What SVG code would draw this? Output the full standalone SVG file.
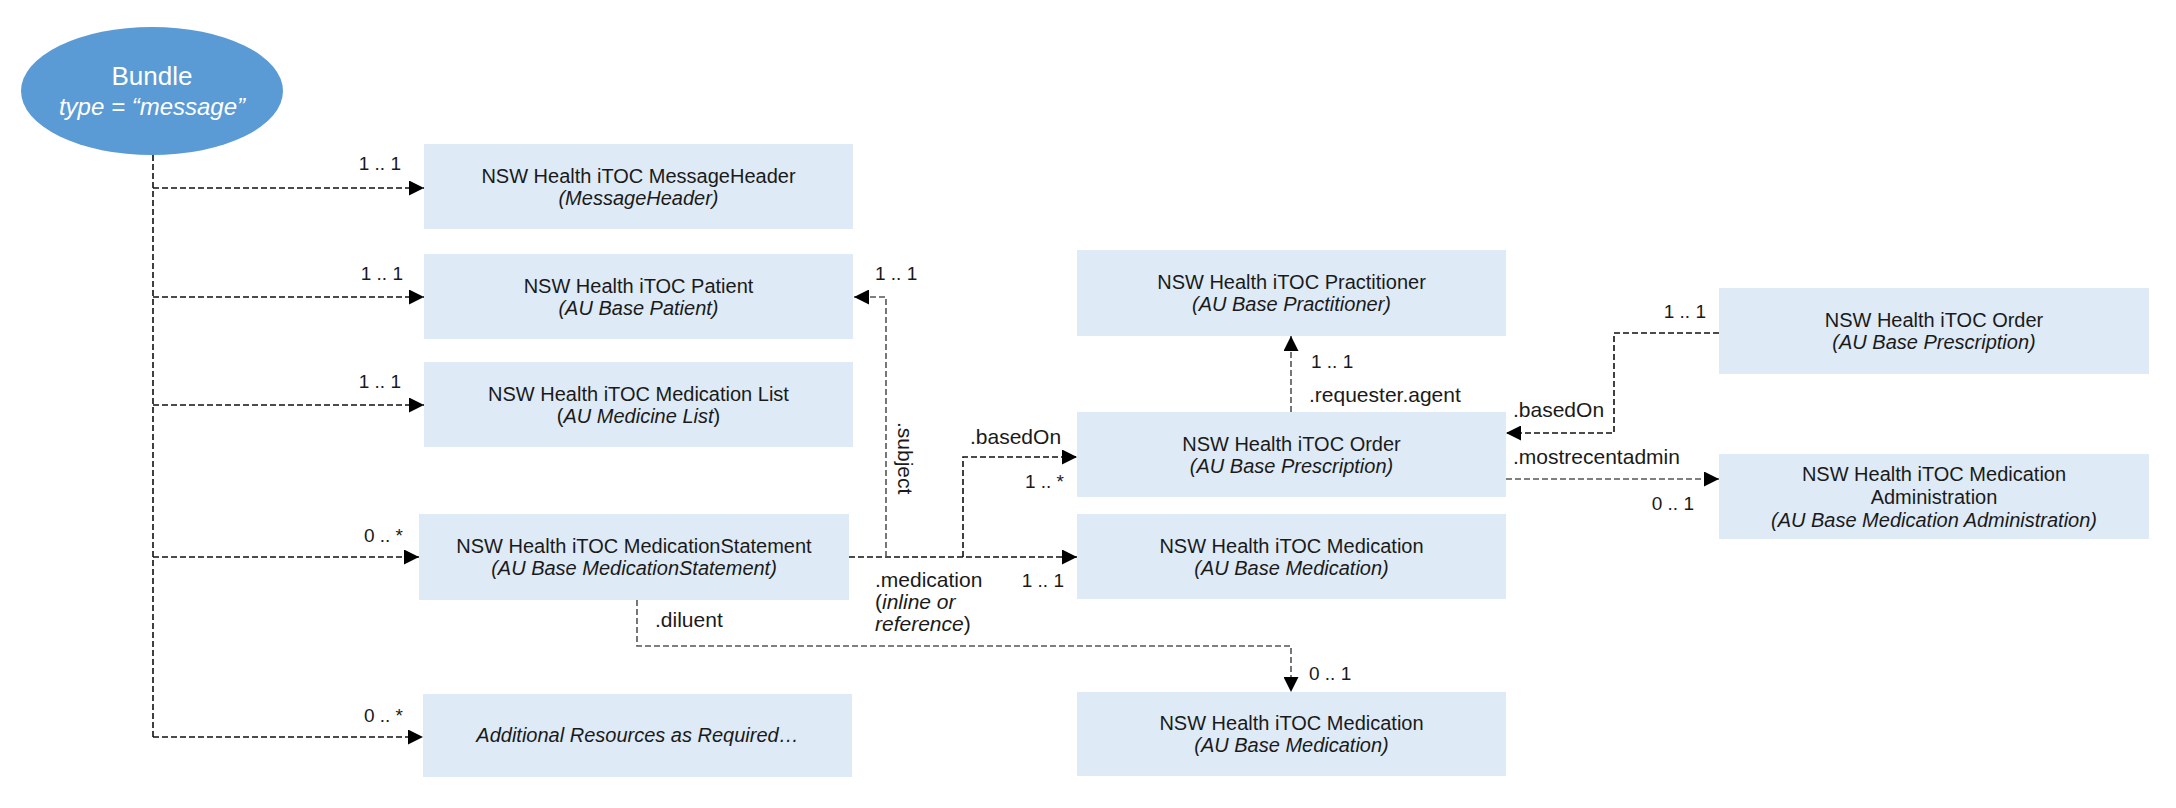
<svg xmlns="http://www.w3.org/2000/svg" width="2176" height="808" viewBox="0 0 2176 808">
<style>
  .box { fill: #DEEAF6; }
  .t { font-family: "Liberation Sans", Arial, sans-serif; font-size: 20px; fill: #1a1a1a; text-anchor: middle; }
  .i { font-style: italic; }
  .lbl { font-family: "Liberation Sans", Arial, sans-serif; font-size: 21px; fill: #1a1a1a; }
  .m { font-family: "Liberation Sans", Arial, sans-serif; font-size: 19px; fill: #1a1a1a; }
  .end { text-anchor: end; }
  .c { fill: none; stroke: #111; stroke-width: 1.6; stroke-dasharray: 6 3; }
  .g { stroke: #555; }
</style>
<defs>
  <marker id="arr" viewBox="0 0 15 15" refX="15" refY="7.5" markerWidth="15" markerHeight="15" markerUnits="userSpaceOnUse" orient="auto">
    <path d="M0,0 L15,7.5 L0,15 z" fill="#000"/>
  </marker>
</defs>

<g id="connectors">
  <path class="c" d="M153,155 V737"/>
  <path class="c" d="M153,188 H424" marker-end="url(#arr)"/>
  <path class="c" d="M153,297 H424" marker-end="url(#arr)"/>
  <path class="c" d="M153,405 H424" marker-end="url(#arr)"/>
  <path class="c" d="M153,557 H419" marker-end="url(#arr)"/>
  <path class="c" d="M153,737 H423" marker-end="url(#arr)"/>
  <path class="c" d="M849,557 H1077" marker-end="url(#arr)"/>
  <path class="c g" d="M886,557 V297 H854" marker-end="url(#arr)"/>
  <path class="c" d="M963,557 V457 H1077" marker-end="url(#arr)"/>
  <path class="c g" d="M1291,412 V336" marker-end="url(#arr)"/>
  <path class="c" d="M1719,333 H1614 V433 H1506" marker-end="url(#arr)"/>
  <path class="c g" d="M1506,479 H1719" marker-end="url(#arr)"/>
  <path class="c g" d="M637,600 V646 H1291 V692" marker-end="url(#arr)"/>
</g>

<g id="labels">
  <text class="m end" x="401" y="170">1 .. 1</text>
  <text class="m end" x="403" y="280">1 .. 1</text>
  <text class="m end" x="401" y="388">1 .. 1</text>
  <text class="m end" x="403" y="542">0 .. *</text>
  <text class="m end" x="403" y="722">0 .. *</text>
  <text class="m" x="875" y="280">1 .. 1</text>
  <text class="lbl" transform="translate(898,422) rotate(90)">.subject</text>
  <text class="lbl" x="970" y="444">.basedOn</text>
  <text class="m end" x="1064" y="488">1 .. *</text>
  <text class="lbl" x="875" y="587">.medication</text>
  <text class="lbl" x="875" y="609">(<tspan class="i">inline or</tspan></text>
  <text class="lbl" x="875" y="631"><tspan class="i">reference</tspan>)</text>
  <text class="m end" x="1064" y="587">1 .. 1</text>
  <text class="lbl" x="655" y="627">.diluent</text>
  <text class="m" x="1309" y="680">0 .. 1</text>
  <text class="m" x="1311" y="368">1 .. 1</text>
  <text class="lbl" x="1309" y="402">.requester.agent</text>
  <text class="m end" x="1706" y="318">1 .. 1</text>
  <text class="lbl" x="1513" y="417">.basedOn</text>
  <text class="lbl" x="1513" y="464">.mostrecentadmin</text>
  <text class="m end" x="1694" y="510">0 .. 1</text>
</g>

<g id="bundle">
  <ellipse cx="152" cy="91" rx="131" ry="64" fill="#5B9BD5"/>
  <text x="152" y="85" font-family="Liberation Sans, Arial, sans-serif" font-size="26" fill="#fff" text-anchor="middle">Bundle</text>
  <text x="152" y="115" font-family="Liberation Sans, Arial, sans-serif" font-size="24" fill="#fff" text-anchor="middle" font-style="italic">type = “message”</text>
</g>

<g id="messageheader">
  <rect class="box" x="424" y="144" width="429" height="85"/>
  <text class="t" x="638.5" y="183">NSW Health iTOC MessageHeader</text>
  <text class="t i" x="638.5" y="205">(MessageHeader)</text>
</g>
<g id="patient">
  <rect class="box" x="424" y="254" width="429" height="85"/>
  <text class="t" x="638.5" y="293">NSW Health iTOC Patient</text>
  <text class="t i" x="638.5" y="315">(AU Base Patient)</text>
</g>
<g id="medicationlist">
  <rect class="box" x="424" y="362" width="429" height="85"/>
  <text class="t" x="638.5" y="401">NSW Health iTOC Medication List</text>
  <text class="t" x="638.5" y="423">(<tspan class="i">AU Medicine List</tspan>)</text>
</g>
<g id="medicationstatement">
  <rect class="box" x="419" y="514" width="430" height="86"/>
  <text class="t" x="634" y="553">NSW Health iTOC MedicationStatement</text>
  <text class="t i" x="634" y="575">(AU Base MedicationStatement)</text>
</g>
<g id="additional">
  <rect class="box" x="423" y="694" width="429" height="83"/>
  <text class="t i" x="637.5" y="742">Additional Resources as Required…</text>
</g>
<g id="practitioner">
  <rect class="box" x="1077" y="250" width="429" height="86"/>
  <text class="t" x="1291.5" y="289">NSW Health iTOC Practitioner</text>
  <text class="t i" x="1291.5" y="311">(AU Base Practitioner)</text>
</g>
<g id="order">
  <rect class="box" x="1077" y="412" width="429" height="85"/>
  <text class="t" x="1291.5" y="451">NSW Health iTOC Order</text>
  <text class="t i" x="1291.5" y="473">(AU Base Prescription)</text>
</g>
<g id="medication">
  <rect class="box" x="1077" y="514" width="429" height="85"/>
  <text class="t" x="1291.5" y="553">NSW Health iTOC Medication</text>
  <text class="t i" x="1291.5" y="575">(AU Base Medication)</text>
</g>
<g id="medication-diluent">
  <rect class="box" x="1077" y="692" width="429" height="84"/>
  <text class="t" x="1291.5" y="730">NSW Health iTOC Medication</text>
  <text class="t i" x="1291.5" y="752">(AU Base Medication)</text>
</g>
<g id="order-basedon">
  <rect class="box" x="1719" y="288" width="430" height="86"/>
  <text class="t" x="1934" y="327">NSW Health iTOC Order</text>
  <text class="t i" x="1934" y="349">(AU Base Prescription)</text>
</g>
<g id="medicationadministration">
  <rect class="box" x="1719" y="454" width="430" height="85"/>
  <text class="t" x="1934" y="481">NSW Health iTOC Medication</text>
  <text class="t" x="1934" y="504">Administration</text>
  <text class="t i" x="1934" y="527">(AU Base Medication Administration)</text>
</g>
</svg>
